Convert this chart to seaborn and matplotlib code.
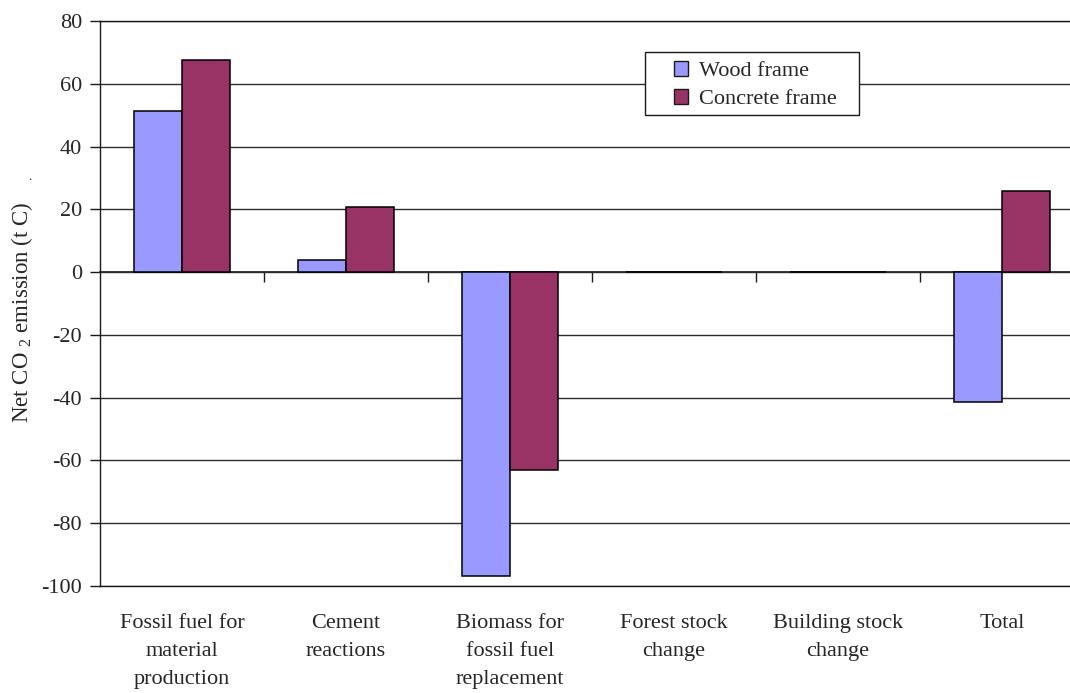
import numpy as np
import pandas as pd
import matplotlib
matplotlib.use("Agg")
import matplotlib.pyplot as plt
from matplotlib.patches import Rectangle
import seaborn as sns

# Net CO2 emission (t C) by process, for wood vs concrete frame buildings
categories = [
    "Fossil fuel for\nmaterial\nproduction",
    "Cement\nreactions",
    "Biomass for\nfossil fuel\nreplacement",
    "Forest stock\nchange",
    "Building stock\nchange",
    "Total",
]
wood_frame = [51.3, 3.7, -96.8, 0.0, 0.0, -41.3]
concrete_frame = [67.5, 20.6, -63.0, 0.0, 0.0, 25.8]
series_names = ["Wood frame", "Concrete frame"]
series_colors = ["#9999FF", "#993366"]
y_ticks = list(range(-100, 81, 20))

df = pd.DataFrame({
    "category": categories * 2,
    "value": wood_frame + concrete_frame,
    "frame": [series_names[0]] * len(categories) + [series_names[1]] * len(categories),
})

sns.set_style("white")
plt.rcParams["font.family"] = ["Liberation Serif", "DejaVu Serif"]
plt.rcParams["font.size"] = 16
plt.rcParams["axes.unicode_minus"] = False
plt.rcParams["mathtext.fontset"] = "custom"
plt.rcParams["mathtext.rm"] = "Liberation Serif"

fig = plt.figure(figsize=(10.7, 6.93), dpi=100)
ax = fig.add_axes([100 / 1070, 1 - 586 / 693, 984 / 1070, 565 / 693])

sns.barplot(
    data=df, x="category", y="value", hue="frame", order=categories,
    hue_order=series_names, palette=series_colors, saturation=1,
    width=0.585, edgecolor="black", linewidth=1.1, ax=ax,
)

ymin, ymax = -100, 80
ax.set_ylim(ymin, ymax)
ax.set_xlim(-0.5, len(categories) - 0.5)
ax.set_yticks(y_ticks)
ax.set_yticklabels([str(v) for v in y_ticks])
ax.yaxis.grid(True, color="#2b2b2b", linewidth=1.0)
ax.xaxis.grid(False)
ax.set_axisbelow(True)
for side in ["left", "bottom", "top", "right"]:
    ax.spines[side].set_color("#1a1a1a")
    ax.spines[side].set_linewidth(1.0)
ax.tick_params(axis="y", which="major", direction="out", length=7, width=1,
               color="#1a1a1a", pad=6, left=True, labelsize=16)
ax.tick_params(axis="x", length=0, pad=20, labelsize=16)
for lbl in ax.get_xticklabels():
    lbl.set_linespacing(1.66)
ax.set_xlabel("")
ax.set_ylabel("Net CO $_2$ emission (t C)", fontsize=16.5)
ax.yaxis.set_label_coords(-0.066, 0.485)

# category axis drawn along the zero line, with boundary ticks pointing down
zero_frac = (0 - ymin) / (ymax - ymin)
sec = ax.secondary_xaxis(zero_frac)
sec.set_alignment("bottom")
sec.set_xticks(np.arange(0.5, len(categories), 1.0))
sec.tick_params(axis="x", direction="out", length=7, width=1, color="#1a1a1a",
                labelbottom=False, labeltop=False)
sec.spines["bottom"].set_color("#1a1a1a")
sec.spines["bottom"].set_linewidth(1.2)

# legend
handles, labels = ax.get_legend_handles_labels()
if ax.get_legend() is not None:
    ax.get_legend().remove()
frame = Rectangle((0.5539, 0.8336), 0.2174, 0.1115, transform=ax.transAxes,
                  facecolor="white", edgecolor="#1a1a1a", linewidth=1.0, zorder=4)
ax.add_patch(frame)
leg = ax.legend(
    handles, labels, loc="upper left", bbox_to_anchor=(0.5833, 0.929),
    frameon=False, borderpad=0, borderaxespad=0, handlelength=0.62,
    handleheight=0.62, handletextpad=0.5, labelspacing=0.36, fontsize=16,
)
leg.set_zorder(5)
for h in leg.legend_handles:
    h.set_edgecolor("#1a1a1a")
    h.set_linewidth(1.0)

fig.text(30 / 1070, 1 - 180 / 693, ".", fontsize=9, ha="center", va="baseline")

fig.savefig("out.png", dpi=100)
